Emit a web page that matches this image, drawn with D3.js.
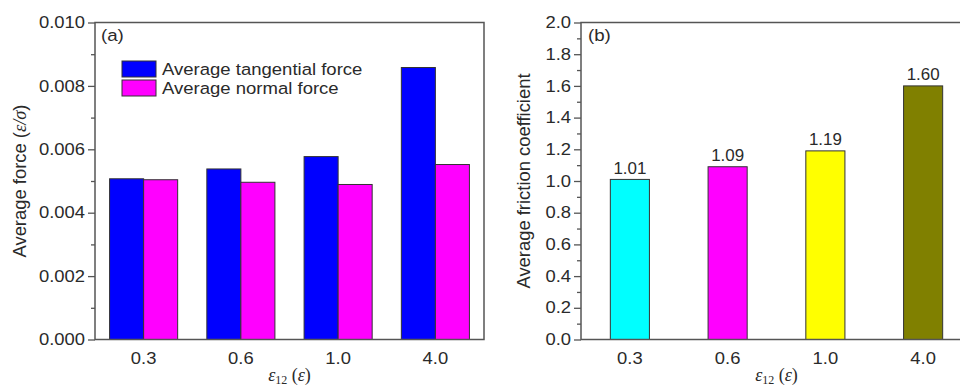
<!DOCTYPE html>
<html><head><meta charset="utf-8">
<script src="https://cdn.jsdelivr.net/npm/d3@7"></script>
<style>
html,body{margin:0;padding:0;background:#fff;}
svg{display:block;}
text{font-family:"Liberation Sans",Arial,sans-serif;fill:#2a2a2a;}
</style></head>
<body><svg id="c" width="960" height="388"></svg>
<script>
const categories = ["0.3", "0.6", "1.0", "4.0"];
const seriesNames = ["Average tangential force", "Average normal force"];
const tangential = [0.00507, 0.00538, 0.00577, 0.00858];
const normal = [0.00504, 0.00496, 0.00489, 0.00552];
const friction = [1.01, 1.09, 1.19, 1.60];
const forceTicks = [0, 0.002, 0.004, 0.006, 0.008, 0.010];
const forceMinor = [0.001, 0.003, 0.005, 0.007, 0.009];
const frictionTicks = [0, 0.2, 0.4, 0.6, 0.8, 1.0, 1.2, 1.4, 1.6, 1.8, 2.0];
const frictionMinor = [0.1, 0.3, 0.5, 0.7, 0.9, 1.1, 1.3, 1.5, 1.7, 1.9];
const colorsA = ["#0000ff", "#ff00ff"];
const colorsB = ["#00ffff", "#ff00ff", "#ffff00", "#808000"];

const svg = d3.select("#c");
const top0 = 22.5, bot0 = 339.5;

function stretch(sel, sx) {
  sel.each(function () {
    const t = d3.select(this);
    const x = +t.attr("x") || 0;
    t.attr("x", 0).attr("transform", `translate(${x},0) scale(${sx},1)`);
  });
}

// ---------- Panel (a) ----------
const ax0 = 95, ax1 = 484;
const xa = d3.scaleBand().domain(categories).range([ax0, ax1]);
const ya = d3.scaleLinear().domain([0, 0.010]).range([bot0, top0]);
const gw = xa.bandwidth() * 0.7;
const xs = d3.scaleBand().domain(seriesNames).range([0, gw]);
const gA = svg.append("g");

const rowsA = categories.map((c, i) => ({c, vals: [tangential[i], normal[i]]}));
gA.selectAll("g.grp").data(rowsA).enter().append("g")
  .attr("transform", d => `translate(${xa(d.c) + (xa.bandwidth() - gw) / 2},0)`)
  .selectAll("rect").data(d => d.vals.map((v, j) => ({v, s: seriesNames[j], j})))
  .enter().append("rect")
  .attr("x", d => xs(d.s)).attr("width", xs.bandwidth())
  .attr("y", d => ya(d.v)).attr("height", d => ya(0) - ya(d.v))
  .attr("fill", d => colorsA[d.j]).attr("stroke", "#333").attr("stroke-width", 1);

gA.append("rect").attr("x", ax0).attr("y", top0).attr("width", ax1 - ax0).attr("height", bot0 - top0)
  .attr("fill", "none").attr("stroke", "#555").attr("stroke-width", 1.5);

const yAxA = gA.append("g").attr("transform", `translate(${ax0},0)`)
  .call(d3.axisLeft(ya).tickValues(forceTicks).tickSize(7).tickPadding(3).tickFormat(d3.format(".3f")));
const yMinA = gA.append("g").attr("transform", `translate(${ax0},0)`)
  .call(d3.axisLeft(ya).tickValues(forceMinor).tickSize(4).tickFormat(""));
const xAxA = gA.append("g").attr("transform", `translate(0,${bot0})`)
  .call(d3.axisBottom(xa).tickSize(0).tickPadding(13));

[yAxA, yMinA, xAxA].forEach(g => {
  g.select(".domain").remove();
  g.selectAll("line").attr("stroke", "#555").attr("stroke-width", 1.3);
  g.selectAll("text").attr("font-size", 16).attr("fill", "#2a2a2a").style("font-family", "'Liberation Sans',Arial,sans-serif");
});
stretch(yAxA.selectAll("text"), 1.15);
stretch(xAxA.selectAll("text"), 1.15);

// legend
const leg = gA.append("g");
seriesNames.forEach((s, i) => {
  leg.append("rect").attr("x", 122).attr("y", 61 + i * 19).attr("width", 34).attr("height", 16)
    .attr("fill", colorsA[i]).attr("stroke", "#333").attr("stroke-width", 1);
  const t = leg.append("text").attr("x", 162).attr("y", 75 + i * 19).attr("font-size", 17).text(s);
  stretch(t, 1.09);
});

stretch(gA.append("text").attr("x", 101).attr("y", 41).attr("font-size", 17).text("(a)"), 1.1);

const ytA = gA.append("text").attr("transform", `translate(25.5,${(top0 + bot0) / 2}) rotate(-90)`)
  .attr("text-anchor", "middle").attr("font-size", 18.4);
ytA.append("tspan").text("Average force (");
ytA.append("tspan").style("font-family", "'Liberation Serif',serif").style("font-style", "italic").text("ε/σ");
ytA.append("tspan").text(")");

function xTitle(g, cx) {
  const t = g.append("text").attr("x", cx).attr("y", 381).attr("text-anchor", "middle")
    .attr("font-size", 18).style("font-family", "'Liberation Serif',serif");
  t.append("tspan").style("font-style", "italic").text("ε");
  t.append("tspan").attr("font-size", 12).attr("dy", 3).text("12");
  t.append("tspan").attr("dy", -3).text(" (");
  t.append("tspan").style("font-style", "italic").text("ε");
  t.append("tspan").text(")");
}
xTitle(gA, (ax0 + ax1) / 2);

// ---------- Panel (b) ----------
const bx0 = 581, bx1 = 972;
const xb = d3.scaleBand().domain(categories).range([bx0, bx1]);
const yb = d3.scaleLinear().domain([0, 2.0]).range([bot0, top0]);
const bw = xb.bandwidth() * 0.4;
const gB = svg.append("g");
const rowsB = categories.map((c, i) => ({c, v: friction[i], i}));

gB.selectAll("rect.bar").data(rowsB).enter().append("rect")
  .attr("x", d => xb(d.c) + (xb.bandwidth() - bw) / 2).attr("width", bw)
  .attr("y", d => yb(d.v)).attr("height", d => yb(0) - yb(d.v))
  .attr("fill", d => colorsB[d.i]).attr("stroke", "#333").attr("stroke-width", 1);

gB.selectAll("text.val").data(rowsB).enter().append("text")
  .attr("x", d => xb(d.c) + xb.bandwidth() / 2).attr("y", d => yb(d.v) - 5.5)
  .attr("text-anchor", "middle").attr("font-size", 16).text(d => d3.format(".2f")(d.v))
  .call(s => stretch(s, 1.06));

gB.append("rect").attr("x", bx0).attr("y", top0).attr("width", bx1 - bx0).attr("height", bot0 - top0)
  .attr("fill", "none").attr("stroke", "#555").attr("stroke-width", 1.5);

const yAxB = gB.append("g").attr("transform", `translate(${bx0},0)`)
  .call(d3.axisLeft(yb).tickValues(frictionTicks).tickSize(7).tickPadding(3).tickFormat(d3.format(".1f")));
const yMinB = gB.append("g").attr("transform", `translate(${bx0},0)`)
  .call(d3.axisLeft(yb).tickValues(frictionMinor).tickSize(4).tickFormat(""));
const xAxB = gB.append("g").attr("transform", `translate(0,${bot0})`)
  .call(d3.axisBottom(xb).tickSize(0).tickPadding(13));
[yAxB, yMinB, xAxB].forEach(g => {
  g.select(".domain").remove();
  g.selectAll("line").attr("stroke", "#555").attr("stroke-width", 1.3);
  g.selectAll("text").attr("font-size", 16).attr("fill", "#2a2a2a").style("font-family", "'Liberation Sans',Arial,sans-serif");
});
stretch(yAxB.selectAll("text"), 1.15);
stretch(xAxB.selectAll("text"), 1.15);

stretch(gB.append("text").attr("x", 588).attr("y", 41).attr("font-size", 17).text("(b)"), 1.1);

gB.append("text").attr("transform", `translate(530,${(top0 + bot0) / 2}) rotate(-90)`)
  .attr("text-anchor", "middle").attr("font-size", 18.4).text("Average friction coefficient");

xTitle(gB, (bx0 + bx1) / 2);
</script></body></html>
